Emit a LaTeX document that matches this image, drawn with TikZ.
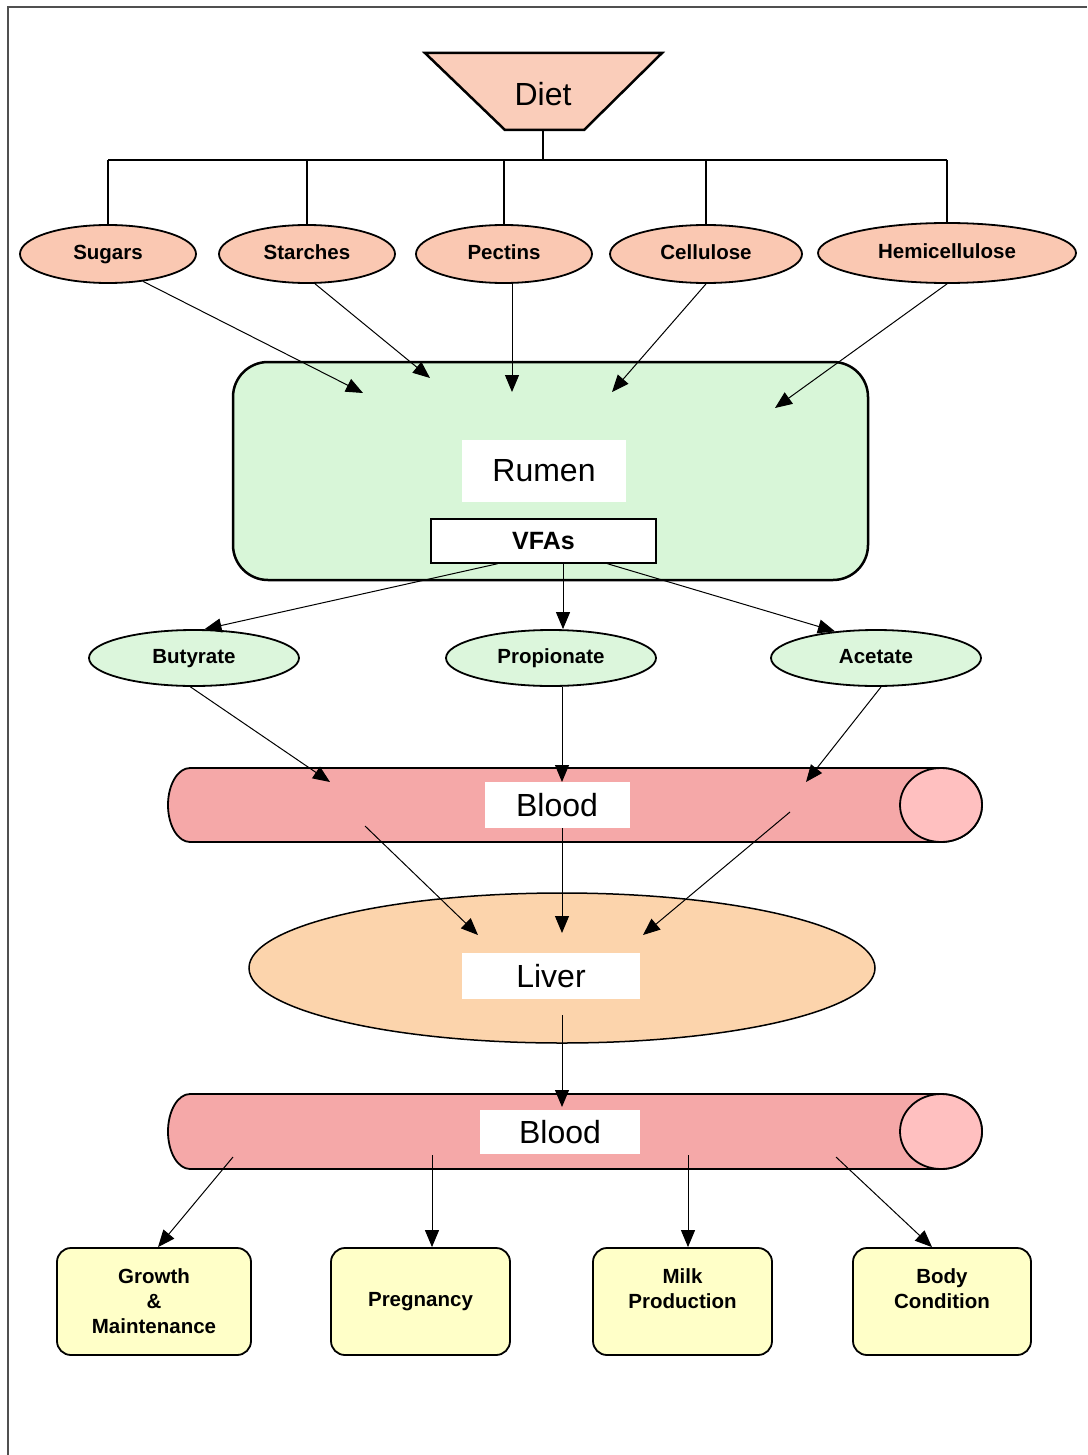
\documentclass[tikz,border=0pt]{standalone}
\usepackage{fontspec}
\setmainfont{Liberation Sans}
\usetikzlibrary{shapes.geometric,arrows.meta}
\definecolor{peachc}{RGB}{250,200,178}
\definecolor{dietc}{RGB}{250,205,186}
\definecolor{rumenc}{RGB}{216,246,216}
\definecolor{greenc}{RGB}{220,246,220}
\definecolor{bloodc}{RGB}{245,168,168}
\definecolor{capc}{RGB}{255,192,192}
\definecolor{liverc}{RGB}{252,212,172}
\definecolor{yellowc}{RGB}{255,255,200}
\definecolor{framec}{RGB}{80,80,80}
\begin{document}
\begin{tikzpicture}[x=1pt,y=-1pt,
  arr/.style={-{Triangle[length=17pt,width=14pt]}, line width=1},
  bigtext/.style={font=\fontsize{32}{38}\selectfont},
  boldtext/.style={font=\fontsize{20.5}{25}\selectfont\bfseries},
  carb/.style={ellipse, draw, line width=1.8, fill=peachc, minimum width=176, minimum height=58, inner sep=0pt, text height=15pt, text depth=4pt, boldtext},
  vfa/.style={ellipse, draw, line width=1.8, fill=greenc, minimum width=210, minimum height=56, inner sep=0pt, text height=15pt, text depth=4pt, boldtext},
  whitelbl/.style={fill=white, inner sep=0pt, bigtext},
  outbox/.style={rectangle, rounded corners=14, draw, line width=1.8, fill=yellowc, minimum height=107, align=center, boldtext}]
\useasboundingbox (0,0) rectangle (1087,1455);
\fill[white] (0,0) rectangle (1087,1455);
\draw[framec, line width=1.5] (8,1455) -- (8,7) -- (1087,7);

% Diet
\draw[fill=dietc, line width=2.5] (425,53) -- (662,53) -- (584,130) -- (505,130) -- cycle;
\node[bigtext] (diet) at (543,94) {Diet};
\coordinate (dietb) at (543,130);
\coordinate (bus) at (543,160);

% carbohydrate ellipses
\node[carb] (sugars) at (108,254) {Sugars};
\node[carb] (starches) at (307,254) {Starches};
\node[carb] (pectins) at (504,254) {Pectins};
\node[carb, minimum width=192] (cellulose) at (706,254) {Cellulose};
\node[carb, minimum width=258, minimum height=60] (hemi) at (947,253) {Hemicellulose};

\draw[line width=1.5] (dietb) -- (bus);
\draw[line width=2.5] (sugars.north |- bus) -- (hemi.north |- bus);
\draw[line width=1.5] (sugars.north |- bus) -- (sugars.north);
\draw[line width=1.5] (starches.north |- bus) -- (starches.north);
\draw[line width=2.5] (pectins.north |- bus) -- (pectins.north);
\draw[line width=1.5] (cellulose.north |- bus) -- (cellulose.north);
\draw[line width=2.5] (hemi.north |- bus) -- (hemi.north);

% Rumen
\node[rectangle, rounded corners=35, draw, line width=2.5, fill=rumenc, minimum width=635, minimum height=218] (rumen) at (550.5,471) {};
\node[whitelbl, minimum width=164, minimum height=62] (rumenlbl) at (544,471) {Rumen};
\node[draw, fill=white, line width=1.5, minimum width=225, minimum height=44, inner sep=0pt, font=\fontsize{25}{30}\selectfont\bfseries] (vfas) at (543.5,541) {VFAs};

\coordinate (r1) at (363,393);
\coordinate (r2) at (430,378);
\coordinate (r3) at (512,392);
\coordinate (r4) at (612,392);
\coordinate (r5) at (775,408);
\draw[arr] (sugars.-38) -- (r1);
\draw[arr] (starches.-75) -- (r2);
\draw[arr] (pectins.south -| r3) -- (r3);
\draw[arr] (cellulose.south) -- (r4);
\draw[arr] (hemi.south) -- (r5);

% VFA ellipses
\node[vfa] (butyrate) at (194,658) {Butyrate};
\node[vfa] (propionate) at (551,658) {Propionate};
\node[vfa] (acetate) at (876,658) {Acetate};

\draw[arr] ([xshift=-46pt]vfas.south) -- (butyrate.70);
\draw[arr] ([xshift=19.5pt]vfas.south) -- ([xshift=12pt]propionate.north);
\draw[arr] ([xshift=64pt]vfas.south) -- (acetate.147);

% Blood 1
\draw[fill=bloodc, line width=1.8] (190,768) -- (941,768)
  arc[start angle=90, end angle=-90, x radius=41pt, y radius=37pt] -- (190,842)
  arc[start angle=270, end angle=90, x radius=22pt, y radius=37pt] -- cycle;
\draw[fill=capc, line width=1.8] (941,805) ellipse[x radius=41pt, y radius=37pt];
\node[whitelbl, minimum width=145, minimum height=46] (blood1) at (557,805) {Blood};

\coordinate (b1) at (330,782);
\coordinate (b2) at (562,782);
\coordinate (b3) at (806,782);
\draw[arr] (butyrate.-97) -- (b1);
\draw[arr] (propionate.south -| b2) -- (b2);
\draw[arr] (acetate.-80) -- (b3);

% Liver
\node[ellipse, draw, line width=1.5, fill=liverc, minimum width=626, minimum height=150] (liver) at (562,968) {};
\node[whitelbl, minimum width=178, minimum height=46] (liverlbl) at (551,976) {Liver};

\coordinate (s1) at (365,826);
\coordinate (s2) at (562,828);
\coordinate (s3) at (790,812);
\coordinate (l1) at (478,935);
\coordinate (l2) at (562,933);
\coordinate (l3) at (643,935);
\draw[arr] (s1) -- (l1);
\draw[arr] (s2) -- (l2);
\draw[arr] (s3) -- (l3);

% Blood 2
\draw[fill=bloodc, line width=1.8] (190,1094) -- (941,1094)
  arc[start angle=90, end angle=-90, x radius=41pt, y radius=37.5pt] -- (190,1169)
  arc[start angle=270, end angle=90, x radius=22pt, y radius=37.5pt] -- cycle;
\draw[fill=capc, line width=1.8] (941,1131.5) ellipse[x radius=41pt, y radius=37.5pt];
\node[whitelbl, minimum width=160, minimum height=44] (blood2) at (560,1132) {Blood};

\coordinate (lv) at (562,1015);
\coordinate (bt) at (562,1107);
\draw[arr] (lv) -- (bt);

% Outputs
\node[outbox, minimum width=194] (growth) at (154,1301.5) {Growth\\\&\\Maintenance};
\node[outbox, minimum width=179] (preg) at (420.5,1301.5) {Pregnancy};
\node[outbox, minimum width=179] (milk) at (682.5,1301.5) {Milk\\Production\\\mbox{}};
\node[outbox, minimum width=178] (body) at (942,1301.5) {Body\\Condition\\\mbox{}};

\coordinate (o1) at (233,1157);
\coordinate (o2) at (432,1155);
\coordinate (o3) at (688,1155);
\coordinate (o4) at (836,1157);
\draw[arr] (o1) -- ([xshift=4pt]growth.north);
\draw[arr] (o2) -- (o2 |- preg.north);
\draw[arr] (o3) -- (o3 |- milk.north);
\draw[arr] (o4) -- ([xshift=-10pt]body.north);
\end{tikzpicture}
\end{document}
